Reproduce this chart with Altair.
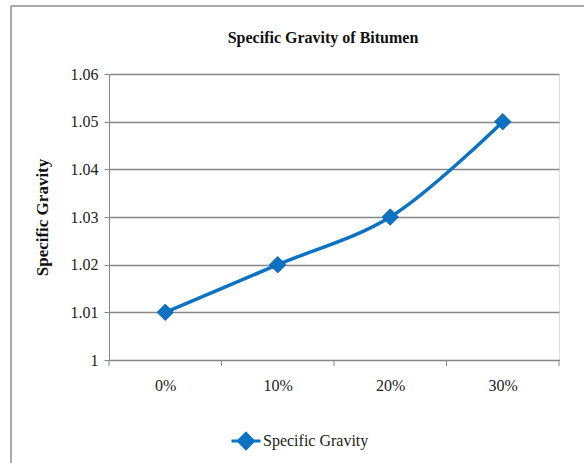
import altair as alt
import pandas as pd

categories = ["0%", "10%", "20%", "30%"]
positions = [0, 10, 20, 30]
sg_values = [1.01, 1.02, 1.03, 1.05]
y_ticks = [1.0, 1.01, 1.02, 1.03, 1.04, 1.05, 1.06]
x_boundaries = [-5, 5, 15, 25, 35]
series_name = "Specific Gravity"
chart_title = ["Specific Gravity of Bitumen"]

df = pd.DataFrame({"pos": positions, "cat": categories, "sg": sg_values,
                   "series": [series_name] * len(categories)})
bdf = pd.DataFrame({"b": x_boundaries})
tdf = pd.DataFrame({"t": chart_title})
one = pd.DataFrame({"k": [0]})

FONT = "Liberation Serif"
BLUE = "#0B72C4"
GRID = "#878787"

x_enc = alt.X("pos:Q", scale=alt.Scale(domain=[-5, 35], nice=False, zero=False),
              axis=alt.Axis(values=positions, labelExpr="datum.value + '%'", title=None,
                            grid=False, ticks=False, domainColor=GRID, labelPadding=17,
                            labelFont=FONT, labelFontSize=16, labelColor="#222"))
y_enc = alt.Y("sg:Q", scale=alt.Scale(domain=[1.0, 1.06], nice=False, zero=False),
              axis=alt.Axis(values=y_ticks, format=".2~f", title="Specific Gravity",
                            titleFont=FONT, titleFontSize=17, titleFontWeight="bold",
                            titleColor="#111", titlePadding=19,
                            labelFont=FONT, labelFontSize=16, labelColor="#222",
                            labelPadding=6, tickSize=5, tickColor=GRID, domainColor=GRID,
                            gridColor=GRID, gridWidth=1.3))
color_enc = alt.Color("series:N", scale=alt.Scale(range=[BLUE]),
                      legend=alt.Legend(title=None, orient="none", legendX=121, legendY=351,
                                        symbolType="M-1,0H1M0,-0.52L0.52,0L0,0.52L-0.52,0Z",
                                        symbolSize=841, symbolStrokeWidth=3,
                                        symbolStrokeColor=BLUE, symbolFillColor=BLUE,
                                        labelFont=FONT, labelFontSize=16, labelColor="#222",
                                        labelOffset=1))

line = alt.Chart(df).mark_line(interpolate="catmull-rom", strokeWidth=3.5).encode(
    x=x_enc, y=y_enc, color=color_enc)
pts = alt.Chart(df).mark_point(shape="diamond", filled=True, size=270, opacity=1,
                               stroke="#0a5fa5", strokeWidth=0.8).encode(
    x=x_enc, y=y_enc, color=color_enc)

xticks = alt.Chart(bdf).mark_rule(color=GRID, strokeWidth=1).encode(
    x=alt.X("b:Q"), y=alt.value(286), y2=alt.value(292))

title = alt.Chart(tdf).mark_text(font=FONT, fontSize=16, fontWeight="bold", color="#111",
                                 align="center", baseline="alphabetic").encode(
    text="t:N", x=alt.value(214), y=alt.value(-31))

frame_left = alt.Chart(one).mark_rule(color="#8c8c8c", strokeWidth=1.5).encode(
    x=alt.value(-98), y=alt.value(-68), y2=alt.value(400))
frame_top = alt.Chart(one).mark_rule(color="#8c8c8c", strokeWidth=1.5).encode(
    x=alt.value(-98), x2=alt.value(480), y=alt.value(-68))

chart = alt.layer(frame_left, frame_top, title, xticks, line, pts).properties(
    width=450, height=286,
    autosize=alt.AutoSizeParams(type="none"),
    padding={"left": 109, "top": 74, "right": 25, "bottom": 103},
).configure_view(stroke=None).configure(background="white")

chart.save("out.html", embed_options={"renderer": "svg", "actions": False})
